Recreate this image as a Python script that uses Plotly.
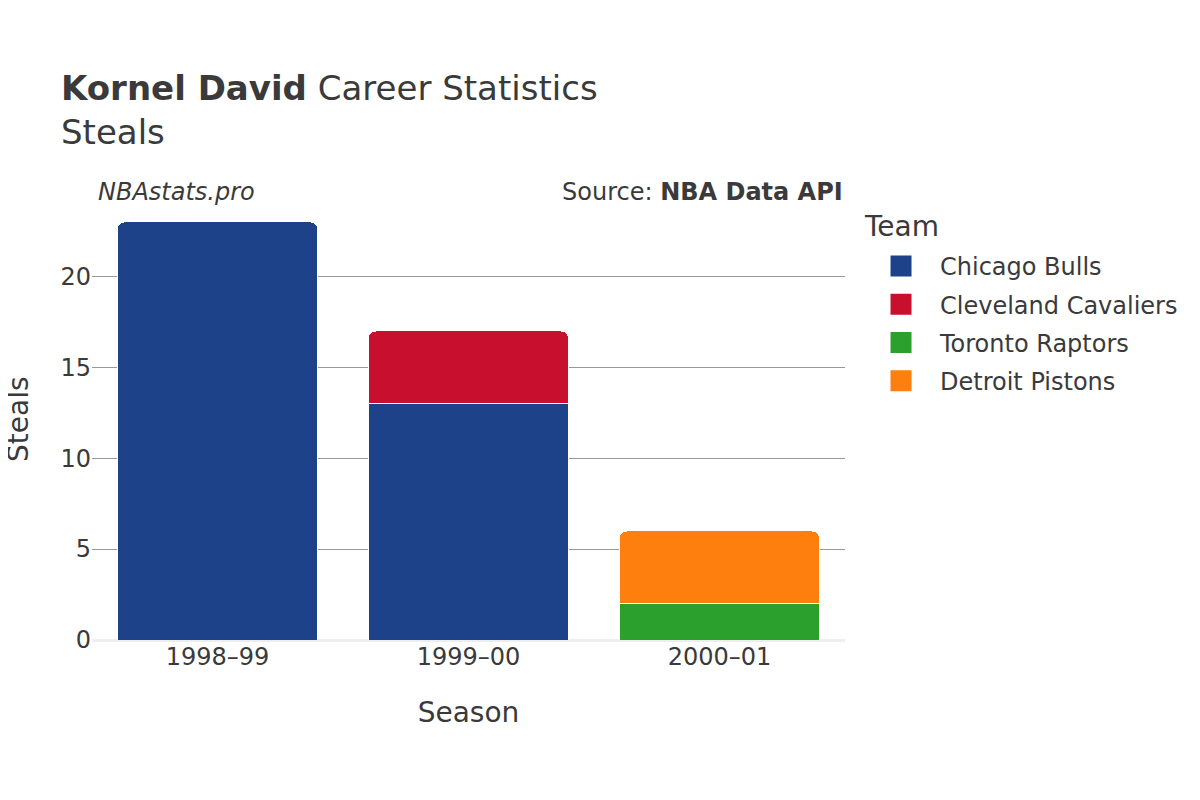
import plotly.graph_objects as go

seasons = ["1998–99", "1999–00", "2000–01"]
teams = ["Chicago Bulls", "Cleveland Cavaliers", "Toronto Raptors", "Detroit Pistons"]
colors = ["#1d428a", "#c8102e", "#2ca02c", "#ff7f0e"]
steals = {
    "Chicago Bulls": [23, 13, None],
    "Cleveland Cavaliers": [None, 4, None],
    "Toronto Raptors": [None, None, 2],
    "Detroit Pistons": [None, None, 4],
}
y_ticks = [0, 5, 10, 15, 20]

FONT = "DejaVu Sans"
TXT = "#3a3a3a"

fig = go.Figure()
for team, color in zip(teams, colors):
    fig.add_trace(go.Bar(
        x=seasons, y=steals[team], name=team,
        marker=dict(color=color, line=dict(color="white", width=1)),
        showlegend=False,
    ))
# legend entries (larger square swatches)
for team, color in zip(teams, colors):
    fig.add_trace(go.Scatter(
        x=[None], y=[None], name=team, mode="markers", legendgroup=team,
        marker=dict(symbol="square", size=16, color=color,
                    line=dict(color=color, width=5)),
    ))

# pixel geometry (figure coords)
plot_left, plot_right = 84, 837
plot_top, plot_bottom = 192, 632
plot_w = plot_right - plot_left
plot_h = plot_bottom - plot_top
ann_y = 1 + (plot_top - 184) / plot_h

fig.update_layout(
    barmode="stack",
    bargap=0.2,
    barcornerradius=8,
    width=1200, height=800,
    paper_bgcolor="white", plot_bgcolor="white",
    margin=dict(l=plot_left, r=1200 - plot_right, t=plot_top, b=800 - plot_bottom),
    font=dict(family=FONT, color=TXT, size=24),
    title=dict(
        text="<b>Kornel David</b> Career Statistics<br>Steals",
        x=53/1200, xanchor="left", xref="container",
        y=1-92/800, yanchor="top", yref="container",
        font=dict(size=34, color=TXT, family=FONT),
    ),
    xaxis=dict(
        title=dict(text="Season", font=dict(size=28), standoff=32),
        tickfont=dict(size=24),
        showgrid=False,
        automargin=False,
    ),
    yaxis=dict(
        tickfont=dict(size=24),
        range=[0, 24.2],
        tickvals=y_ticks,
        gridcolor="#999999", gridwidth=1,
        zeroline=True, zerolinecolor="#eeeeee", zerolinewidth=3,
        automargin=False,
    ),
    legend=dict(
        font=dict(size=24),
        x=1.0226, xanchor="left", y=1 - (236 - plot_top) / plot_h, yanchor="top",
        itemwidth=68,
        traceorder="grouped",
        tracegroupgap=4,
    ),
    annotations=[
        dict(text="<i>NBAstats.pro</i>", x=0.0053, y=ann_y, xref="paper", yref="paper",
             showarrow=False, xanchor="left", yanchor="middle",
             font=dict(size=24, color=TXT, family=FONT)),
        dict(text="Source: <b>NBA Data API</b>", x=1.0, y=ann_y, xref="paper", yref="paper",
             showarrow=False, xanchor="right", yanchor="middle",
             font=dict(size=24, color=TXT, family=FONT)),
        dict(text="Team", x=1.0226, y=1 - (218 - plot_top) / plot_h, xref="paper", yref="paper",
             showarrow=False, xanchor="left", yanchor="middle",
             font=dict(size=28, color=TXT, family=FONT)),
        dict(text="Steals", x=(10 - plot_left) / plot_w, y=1 - (411 - plot_top) / plot_h,
             xref="paper", yref="paper", textangle=-90,
             showarrow=False, xanchor="center", yanchor="middle",
             font=dict(size=28, color=TXT, family=FONT)),
    ],
)

fig.write_html("out.html")
